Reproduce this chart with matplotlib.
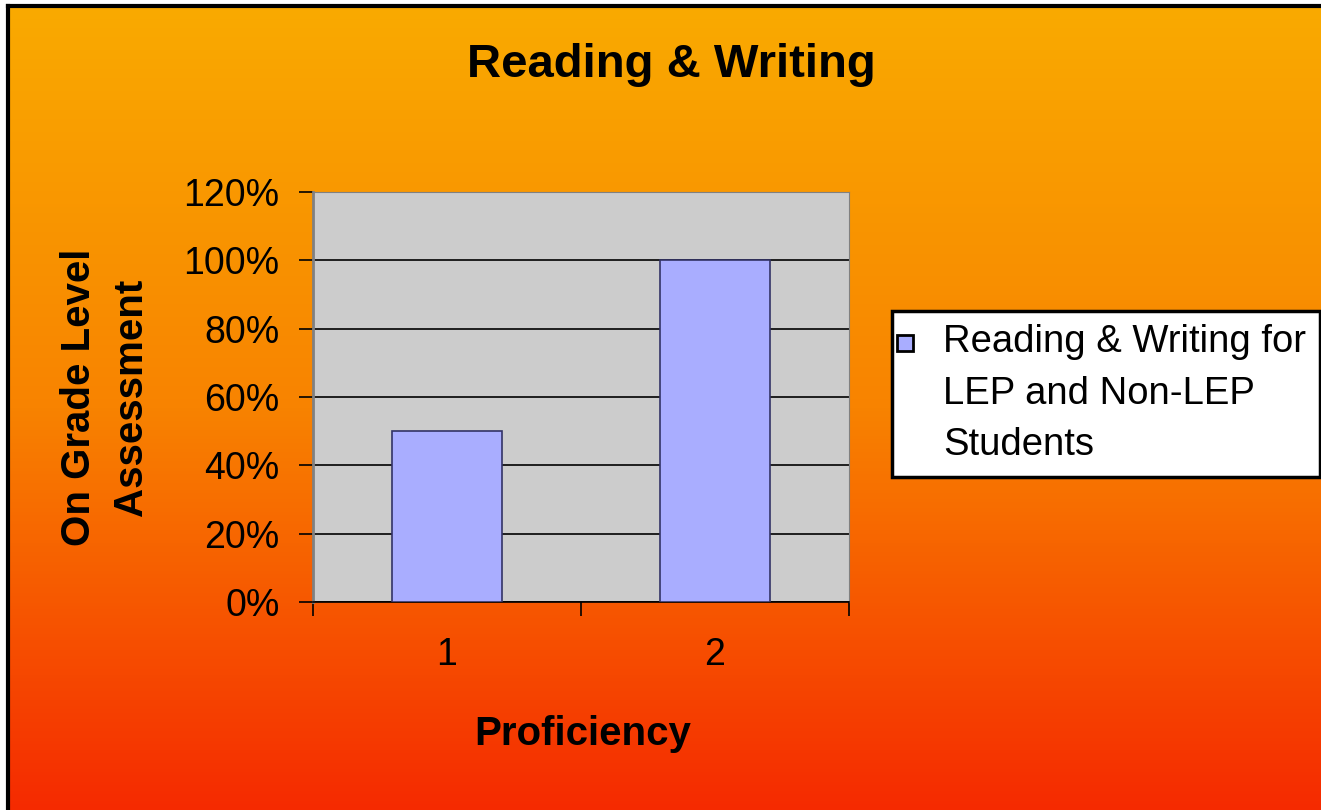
import numpy as np
import matplotlib.pyplot as plt
from matplotlib.colors import LinearSegmentedColormap
from matplotlib.lines import Line2D
from matplotlib.legend_handler import HandlerLine2D

# data
categories = ['1', '2']
values = [0.50, 1.00]
series_name = 'Reading & Writing for\nLEP and Non-LEP\nStudents'
y_ticks = [0, 0.2, 0.4, 0.6, 0.8, 1.0, 1.2]

W, H = 1321, 810
bar_color = '#A9ADFF'
bar_edge = '#333366'

plt.rcParams['font.family'] = ['Liberation Sans', 'DejaVu Sans']

fig = plt.figure(figsize=(W / 100, H / 100), dpi=100, facecolor='white')

# orange gradient background
bg = fig.add_axes([8 / W, 0, 1 - 8 / W, 1 - 6 / H], zorder=-10)
cmap = LinearSegmentedColormap.from_list('bg', ['#FAAA00', '#F88300', '#F52A00'])
bg.imshow(np.linspace(0, 1, 256).reshape(-1, 1), aspect='auto', cmap=cmap,
          extent=[0, 1, 0, 1])
bg.axis('off')
fig.add_artist(Line2D([8 / W, 8 / W], [0, 1 - 6 / H], color='black', lw=3))
fig.add_artist(Line2D([8 / W, 1], [1 - 6 / H, 1 - 6 / H], color='black', lw=3))

# plot area
ax = fig.add_axes([313 / W, 1 - 602 / H, 536 / W, 410 / H])
ax.set_facecolor('#CCCCCC')
x = np.arange(1, len(categories) + 1)
ax.bar(x, values, width=0.41, color=bar_color, edgecolor=bar_edge,
       linewidth=1.2, zorder=3)
ax.set_xlim(0.5, 2.5)
ax.set_ylim(0, 1.2)
ax.set_yticks(y_ticks)
ax.set_yticklabels([f'{int(round(t * 100))}%' for t in y_ticks])
ax.yaxis.grid(True, color='black', linewidth=1.2)
ax.set_axisbelow(True)

ax.set_xticks([0.5, 1.5, 2.5])
ax.set_xticklabels([])
ax.set_xticks(x, minor=True)
ax.set_xticklabels(categories, minor=True)
ax.tick_params(axis='x', which='major', length=10, width=1.2, direction='out')
ax.tick_params(axis='x', which='minor', length=0, pad=25, labelsize=27)
ax.tick_params(axis='y', length=10, width=1.2, pad=14, labelsize=27)

ax.spines['left'].set_color('#808080')
ax.spines['left'].set_linewidth(2)
ax.spines['top'].set_color('#808080')
ax.spines['right'].set_color('#808080')
ax.spines['bottom'].set_color('black')
ax.spines['bottom'].set_linewidth(1.2)

# titles
fig.text(671 / W, 1 - 77 / H, 'Reading & Writing', ha='center', va='baseline',
         fontsize=34, fontweight='bold')
fig.text(583 / W, 1 - 745 / H, 'Proficiency', ha='center', va='baseline',
         fontsize=29, fontweight='bold')
fig.text(105 / W, 1 - 397 / H, 'On Grade Level\nAssessment', ha='center',
         va='center', rotation=90, multialignment='center', linespacing=1.45,
         fontsize=29, fontweight='bold')

# legend
handle = Line2D([], [], marker='s', linestyle='none', markersize=11,
                markerfacecolor=bar_color, markeredgecolor='black', markeredgewidth=2)
leg = fig.legend([handle], [series_name], loc='upper left',
                 bbox_to_anchor=(892 / W, 1 - 311 / H), borderaxespad=0,
                 fontsize=27.5, frameon=True, fancybox=False, edgecolor='black',
                 framealpha=1, handlelength=0.3, handleheight=1.7,
                 handletextpad=0.69, borderpad=0.35,
                 handler_map={Line2D: HandlerLine2D(xpad=-0.33)})
leg.get_frame().set_linewidth(2.5)
for t in leg.get_texts():
    t.set_linespacing(1.55)
for col in leg._legend_handle_box.get_children():
    for row in col.get_children():
        row.align = 'top'

fig.savefig('out.png', dpi=100, facecolor=fig.get_facecolor())
